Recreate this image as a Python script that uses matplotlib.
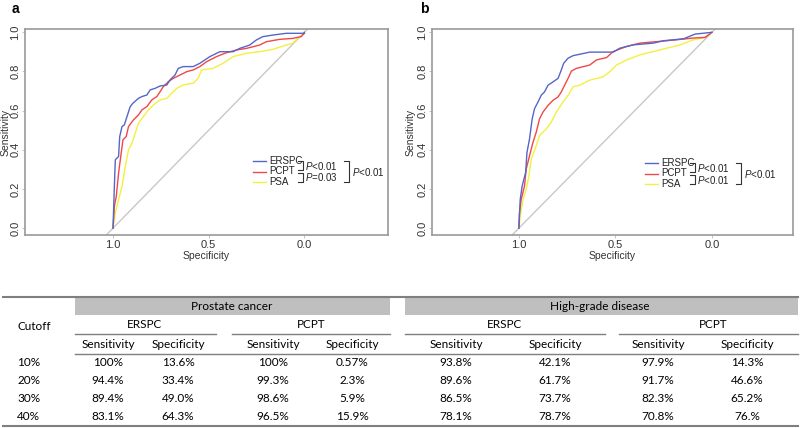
import matplotlib.pyplot as plt
import numpy as np
from matplotlib.lines import Line2D

# ROC curve vertices (specificity, sensitivity)
A_ERSPC_SPEC = [1.0, 0.993, 0.988, 0.971, 0.965, 0.953, 0.941, 0.927, 0.910, 0.896, 0.867, 0.849, 0.823, 0.806,
                0.780, 0.754, 0.719, 0.702, 0.676, 0.659, 0.633, 0.581, 0.546, 0.520, 0.494, 0.442, 0.373, 0.338,
                0.286, 0.251, 0.217, 0.165, 0.095, 0.0, 0.0]
A_ERSPC_SENS = [0.0, 0.213, 0.349, 0.366, 0.468, 0.519, 0.527, 0.570, 0.621, 0.638, 0.663, 0.672, 0.680, 0.706,
                0.714, 0.726, 0.731, 0.757, 0.782, 0.816, 0.825, 0.825, 0.842, 0.859, 0.876, 0.901, 0.901, 0.918,
                0.935, 0.961, 0.978, 0.986, 0.995, 0.995, 1.0]
A_PCPT_SPEC = [1.0, 0.993, 0.983, 0.971, 0.962, 0.948, 0.931, 0.919, 0.893, 0.867, 0.849, 0.823, 0.797, 0.771,
               0.754, 0.737, 0.711, 0.685, 0.650, 0.615, 0.581, 0.546, 0.511, 0.459, 0.407, 0.355, 0.303, 0.234,
               0.199, 0.130, 0.061, 0.017, 0.0]
A_PCPT_SENS = [0.0, 0.111, 0.162, 0.281, 0.349, 0.451, 0.468, 0.519, 0.553, 0.578, 0.604, 0.621, 0.655, 0.672,
               0.697, 0.723, 0.748, 0.765, 0.782, 0.799, 0.808, 0.825, 0.850, 0.876, 0.896, 0.910, 0.918, 0.935,
               0.952, 0.964, 0.969, 0.978, 0.995]
A_PSA_SPEC = [1.0, 0.988, 0.971, 0.953, 0.936, 0.919, 0.901, 0.884, 0.867, 0.841, 0.815, 0.789, 0.754, 0.719,
              0.693, 0.667, 0.633, 0.581, 0.555, 0.537, 0.477, 0.425, 0.373, 0.303, 0.234, 0.165, 0.095, 0.061,
              0.035, 0.0]
A_PSA_SENS = [0.0, 0.077, 0.145, 0.213, 0.315, 0.400, 0.434, 0.485, 0.536, 0.570, 0.604, 0.629, 0.655, 0.663,
              0.689, 0.714, 0.731, 0.740, 0.765, 0.808, 0.816, 0.842, 0.876, 0.893, 0.901, 0.913, 0.935, 0.944,
              0.969, 0.995]

B_ERSPC_SPEC = [1.0, 0.993, 0.983, 0.965, 0.958, 0.945, 0.931, 0.919, 0.901, 0.884, 0.867, 0.849, 0.823, 0.797,
                0.780, 0.768, 0.745, 0.719, 0.685, 0.633, 0.511, 0.477, 0.407, 0.303, 0.251, 0.147, 0.087, 0.0]
B_ERSPC_SENS = [0.0, 0.146, 0.215, 0.284, 0.387, 0.455, 0.558, 0.610, 0.644, 0.679, 0.696, 0.730, 0.747, 0.765,
                0.808, 0.842, 0.868, 0.881, 0.888, 0.899, 0.899, 0.919, 0.936, 0.945, 0.957, 0.967, 0.991, 1.0]
B_PCPT_SPEC = [1.0, 0.997, 0.988, 0.971, 0.962, 0.945, 0.927, 0.910, 0.893, 0.875, 0.849, 0.823, 0.797, 0.780,
               0.763, 0.745, 0.728, 0.702, 0.633, 0.598, 0.546, 0.511, 0.442, 0.373, 0.269, 0.182, 0.095, 0.035, 0.0]
B_PCPT_SENS = [0.0, 0.077, 0.146, 0.215, 0.301, 0.369, 0.438, 0.490, 0.558, 0.593, 0.627, 0.653, 0.670, 0.696,
               0.730, 0.765, 0.802, 0.816, 0.833, 0.859, 0.871, 0.902, 0.928, 0.945, 0.954, 0.962, 0.971, 0.974, 1.0]
B_PSA_SPEC = [1.0, 0.993, 0.979, 0.962, 0.948, 0.936, 0.910, 0.893, 0.858, 0.832, 0.806, 0.771, 0.745, 0.719,
              0.685, 0.633, 0.563, 0.529, 0.494, 0.442, 0.373, 0.303, 0.234, 0.165, 0.095, 0.043, 0.0]
B_PSA_SENS = [0.0, 0.060, 0.146, 0.198, 0.266, 0.352, 0.421, 0.473, 0.507, 0.541, 0.593, 0.644, 0.679, 0.722,
              0.730, 0.756, 0.773, 0.799, 0.833, 0.859, 0.885, 0.902, 0.919, 0.936, 0.962, 0.971, 1.0]

SERIES = ["ERSPC", "PCPT", "PSA"]
COLORS = ["#5566c8", "#f04848", "#f2f040"]
P_PAIRS_A = ["P<0.01", "P=0.03"]
P_OVERALL_A = "P<0.01"
P_PAIRS_B = ["P<0.01", "P<0.01"]
P_OVERALL_B = "P<0.01"

# table data
CUTOFFS = ["10%", "20%", "30%", "40%"]
PC_ERSPC_SENS = ["100%", "94.4%", "89.4%", "83.1%"]
PC_ERSPC_SPEC = ["13.6%", "33.4%", "49.0%", "64.3%"]
PC_PCPT_SENS = ["100%", "99.3%", "98.6%", "96.5%"]
PC_PCPT_SPEC = ["0.57%", "2.3%", "5.9%", "15.9%"]
HG_ERSPC_SENS = ["93.8%", "89.6%", "86.5%", "78.1%"]
HG_ERSPC_SPEC = ["42.1%", "61.7%", "73.7%", "78.7%"]
HG_PCPT_SENS = ["97.9%", "91.7%", "82.3%", "70.8%"]
HG_PCPT_SPEC = ["14.3%", "46.6%", "65.2%", "76.%"]

W, H = 800, 428
AX_FONT = "Liberation Sans"
TB_FONT = "Lato"


def px_box(left, top, right, bottom):
    return [left / W, 1 - bottom / H, (right - left) / W, (bottom - top) / H]


def roc_panel(fig, box, xlim, curves, label, label_x, ylab_x, legend_pos, pairs, overall):
    ax = fig.add_axes(px_box(*box))
    for (spec, sens), color in list(zip(curves, COLORS))[::-1]:
        ax.plot(spec, sens, color=color, lw=1.0, zorder=3)
    ax.axline((1.0, 0.0), (0.0, 1.0), color="#c8c8c8", lw=1.0, zorder=1)
    ax.set_xlim(*xlim)
    ax.set_ylim(-0.035, 1.017)
    ax.set_xticks([1.0, 0.5, 0.0])
    ax.set_xticklabels(["1.0", "0.5", "0.0"])
    ax.set_yticks(np.arange(0, 1.01, 0.2))
    ax.set_yticklabels([f"{v:.1f}" for v in np.arange(0, 1.01, 0.2)], rotation=90, va="center")
    for s in ax.spines.values():
        s.set_color("#9a9a9a")
        s.set_linewidth(1.2)
    ax.tick_params(length=2, width=0.6, color="#bbbbbb", labelsize=8, labelcolor="#333333", pad=1.5)
    for t in ax.get_xticklabels() + ax.get_yticklabels():
        t.set_family(AX_FONT)
    ax.set_xlabel("Specificity", fontsize=7.5, family=AX_FONT, color="#333333", labelpad=0.5)
    ax.set_ylabel("Sensitivity", fontsize=7.5, family=AX_FONT, color="#333333")
    width = box[2] - box[0]
    ax.yaxis.set_label_coords((ylab_x - box[0]) / width, 0.5)
    fig.text(label_x / W, 1 - 9 / H, label, fontsize=10, fontweight="bold", family=AX_FONT,
             va="center", ha="left")

    # legend with significance brackets, positioned in figure pixels
    lx, ly = legend_pos
    ys = [ly, ly + 10.5, ly + 21]
    for name, color, yy in zip(SERIES, COLORS, ys):
        fig.add_artist(Line2D([lx / W, (lx + 13) / W], [1 - yy / H] * 2, color=color, lw=1.0))
        fig.text((lx + 16) / W, 1 - yy / H, name, fontsize=7, family=AX_FONT, color="#222222",
                 va="center", ha="left")
    bx = lx + 50
    for (y0, y1), ptxt in zip([(ys[0], ys[1] - 1.5), (ys[1] + 1.5, ys[2])], pairs):
        fig.add_artist(Line2D([(bx - 5) / W, bx / W, bx / W, (bx - 5) / W],
                              [1 - y0 / H, 1 - y0 / H, 1 - y1 / H, 1 - y1 / H], color="#333333", lw=0.8))
        fig.text((bx + 2) / W, 1 - ((y0 + y1) / 2) / H, "$P$" + ptxt[1:], fontsize=7, family=AX_FONT,
                 color="#222222", va="center", ha="left")
    bx2 = bx + 46
    fig.add_artist(Line2D([(bx2 - 5) / W, bx2 / W, bx2 / W, (bx2 - 5) / W],
                          [1 - ys[0] / H, 1 - ys[0] / H, 1 - ys[2] / H, 1 - ys[2] / H],
                          color="#333333", lw=0.8))
    fig.text((bx2 + 3) / W, 1 - ys[1] / H, "$P$" + overall[1:], fontsize=7, family=AX_FONT,
             color="#222222", va="center", ha="left")
    return ax


def main() -> None:
    plt.rcParams["mathtext.fontset"] = "custom"
    plt.rcParams["mathtext.it"] = "Liberation Sans:italic"
    fig = plt.figure(figsize=(W / 100, H / 100), dpi=100)

    roc_panel(fig, (25, 29, 388, 235), (1.46, -0.437),
              [(A_ERSPC_SPEC, A_ERSPC_SENS), (A_PCPT_SPEC, A_PCPT_SENS), (A_PSA_SPEC, A_PSA_SENS)],
              "a", 12, 10.5, (253, 161), P_PAIRS_A, P_OVERALL_A)
    roc_panel(fig, (432, 29, 793, 235), (1.45, -0.42),
              [(B_ERSPC_SPEC, B_ERSPC_SENS), (B_PCPT_SPEC, B_PCPT_SENS), (B_PSA_SPEC, B_PSA_SENS)],
              "b", 420, 416, (645, 163), P_PAIRS_B, P_OVERALL_B)

    # table drawn in pixel coordinates
    tb = fig.add_axes([0, 0, 1, 1])
    tb.set_xlim(0, W)
    tb.set_ylim(H, 0)
    tb.axis("off")
    tb.set_zorder(-1)

    line_c = "#7f7f7f"
    tb.plot([3, 798], [297, 297], color=line_c, lw=1.5)
    tb.fill_between([75, 390], 297, 315, color="#bfbfbf", lw=0)
    tb.fill_between([405, 798], 297, 315, color="#bfbfbf", lw=0)
    for x0, x1 in [(75, 216), (232, 390), (405, 605), (619, 798)]:
        tb.plot([x0, x1], [334, 334], color=line_c, lw=1.0)
    tb.plot([75, 798], [354, 354], color=line_c, lw=1.0)
    tb.plot([3, 798], [426, 426], color=line_c, lw=1.5)

    fs = 8.5
    kw = dict(fontsize=fs, family=TB_FONT, color="#000000", va="center")
    tb.text(232, 306, "Prostate cancer", ha="center", **kw)
    tb.text(600, 306, "High-grade disease", ha="center", **kw)
    tb.text(17, 326, "Cutoff", ha="left", **kw)
    for x, t in [(145, "ERSPC"), (311, "PCPT"), (505, "ERSPC"), (713, "PCPT")]:
        tb.text(x, 325, t, ha="center", **kw)
    col_x = [108, 178, 273, 352, 456, 555, 658, 747]
    for i, x in enumerate(col_x):
        tb.text(x, 345, "Sensitivity" if i % 2 == 0 else "Specificity", ha="center", **kw)
    cols = [PC_ERSPC_SENS, PC_ERSPC_SPEC, PC_PCPT_SENS, PC_PCPT_SPEC,
            HG_ERSPC_SENS, HG_ERSPC_SPEC, HG_PCPT_SENS, HG_PCPT_SPEC]
    row_y = [363, 381, 399, 417]
    for r, y in enumerate(row_y):
        tb.text(17, y, CUTOFFS[r], ha="left", **kw)
        for x, col in zip(col_x, cols):
            tb.text(x, y, col[r], ha="center", **kw)

    fig.savefig("out.png", dpi=100)
    plt.close(fig)


if __name__ == "__main__":
    main()
